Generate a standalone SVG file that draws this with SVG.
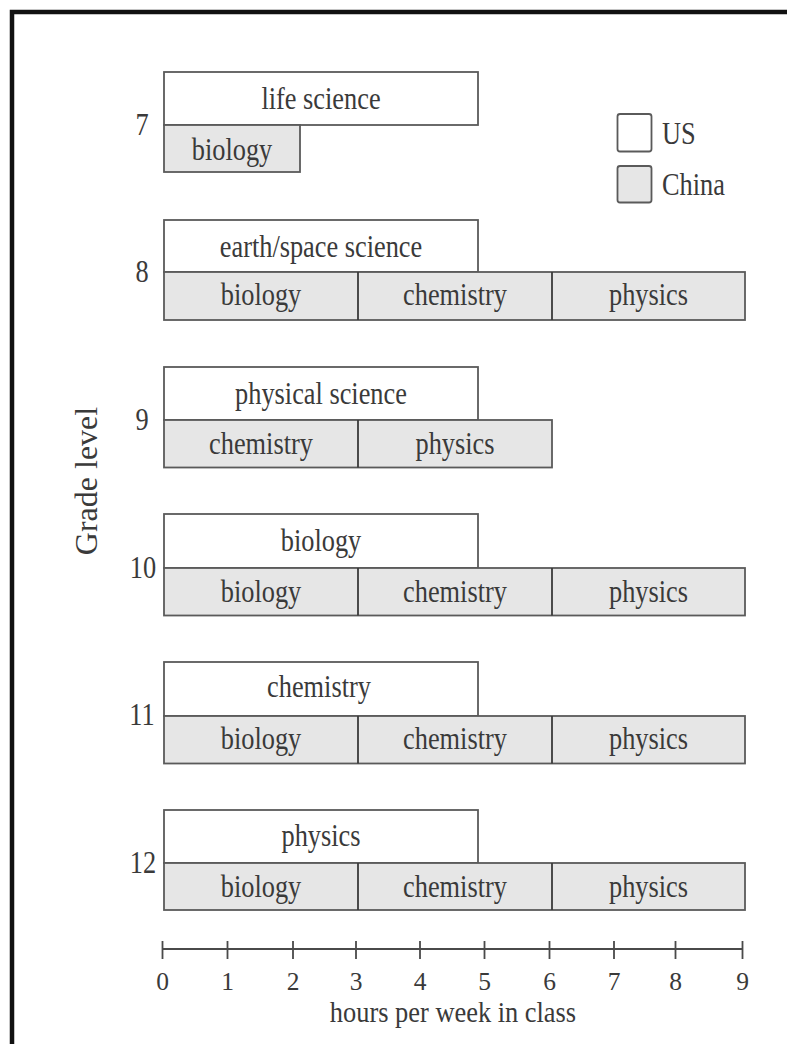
<svg xmlns="http://www.w3.org/2000/svg" width="787" height="1044" viewBox="0 0 787 1044">
<style>
.us{fill:#ffffff;stroke:#5a5a5a;stroke-width:1.8}
.cn{fill:#e6e6e6;stroke:#5a5a5a;stroke-width:1.8}
.div{stroke:#3a3a3a;stroke-width:1.8}
.lbl{font-family:"Liberation Serif","Times New Roman",serif;font-size:31px;fill:#3a3a3a;text-anchor:middle}
.lgd{font-family:"Liberation Serif","Times New Roman",serif;font-size:31px;fill:#3a3a3a;text-anchor:start}
.tick{font-family:"Liberation Serif","Times New Roman",serif;font-size:25.5px;fill:#3a3a3a;text-anchor:middle}
.ax{stroke:#4a4a4a;stroke-width:1.8;fill:none}
</style>
<rect x="0" y="0" width="787" height="1044" fill="#ffffff"/>
<path d="M12,1044 V12 H787" fill="none" stroke="#111111" stroke-width="4.5"/>

<g id="grade7">
<rect class="us" x="164" y="72" width="314" height="53"/>
<rect class="cn" x="164" y="125" width="136" height="47"/>
<text class="lbl" transform="translate(321,108.5) scale(0.85,1)">life science</text>
<text class="lbl" transform="translate(232,159.5) scale(0.85,1)">biology</text>
<text class="lbl" transform="translate(142,135) scale(0.85,1)">7</text>
</g>

<g id="grade8">
<rect class="us" x="164" y="220" width="314" height="52"/>
<rect class="cn" x="164" y="272" width="581" height="48"/>
<line class="div" x1="358" y1="272" x2="358" y2="320"/>
<line class="div" x1="552" y1="272" x2="552" y2="320"/>
<text class="lbl" transform="translate(321,256.5) scale(0.85,1)">earth/space science</text>
<text class="lbl" transform="translate(261,305) scale(0.85,1)">biology</text>
<text class="lbl" transform="translate(455,305) scale(0.85,1)">chemistry</text>
<text class="lbl" transform="translate(648.5,305) scale(0.85,1)">physics</text>
<text class="lbl" transform="translate(142,282) scale(0.85,1)">8</text>
</g>

<g id="grade9">
<rect class="us" x="164" y="367" width="314" height="53"/>
<rect class="cn" x="164" y="420" width="388" height="47.5"/>
<line class="div" x1="358" y1="420" x2="358" y2="467.5"/>
<text class="lbl" transform="translate(321,404) scale(0.85,1)">physical science</text>
<text class="lbl" transform="translate(261,454) scale(0.85,1)">chemistry</text>
<text class="lbl" transform="translate(455,454) scale(0.85,1)">physics</text>
<text class="lbl" transform="translate(142,430) scale(0.85,1)">9</text>
</g>

<g id="grade10">
<rect class="us" x="164" y="514" width="314" height="54"/>
<rect class="cn" x="164" y="568" width="581" height="47.5"/>
<line class="div" x1="358" y1="568" x2="358" y2="615.5"/>
<line class="div" x1="552" y1="568" x2="552" y2="615.5"/>
<text class="lbl" transform="translate(321,550.5) scale(0.85,1)">biology</text>
<text class="lbl" transform="translate(261,601.5) scale(0.85,1)">biology</text>
<text class="lbl" transform="translate(455,601.5) scale(0.85,1)">chemistry</text>
<text class="lbl" transform="translate(648.5,601.5) scale(0.85,1)">physics</text>
<text class="lbl" transform="translate(143,578) scale(0.85,1)">10</text>
</g>

<g id="grade11">
<rect class="us" x="164" y="662" width="314" height="54"/>
<rect class="cn" x="164" y="716" width="581" height="47.5"/>
<line class="div" x1="358" y1="716" x2="358" y2="763.5"/>
<line class="div" x1="552" y1="716" x2="552" y2="763.5"/>
<text class="lbl" transform="translate(319,697) scale(0.85,1)">chemistry</text>
<text class="lbl" transform="translate(261,748.5) scale(0.85,1)">biology</text>
<text class="lbl" transform="translate(455,748.5) scale(0.85,1)">chemistry</text>
<text class="lbl" transform="translate(648.5,748.5) scale(0.85,1)">physics</text>
<text class="lbl" transform="translate(142,725) scale(0.85,1)">11</text>
</g>

<g id="grade12">
<rect class="us" x="164" y="810" width="314" height="53"/>
<rect class="cn" x="164" y="863" width="581" height="47"/>
<line class="div" x1="358" y1="863" x2="358" y2="910"/>
<line class="div" x1="552" y1="863" x2="552" y2="910"/>
<text class="lbl" transform="translate(321,846) scale(0.85,1)">physics</text>
<text class="lbl" transform="translate(261,896.5) scale(0.85,1)">biology</text>
<text class="lbl" transform="translate(455,896.5) scale(0.85,1)">chemistry</text>
<text class="lbl" transform="translate(648.5,896.5) scale(0.85,1)">physics</text>
<text class="lbl" transform="translate(143,873) scale(0.85,1)">12</text>
</g>

<g id="legend">
<rect class="us" x="617.5" y="114" width="34" height="37.5" rx="2.5"/>
<rect class="cn" x="617.5" y="166" width="34" height="36.5" rx="2.5"/>
<text class="lgd" transform="translate(662,144) scale(0.85,1)">US</text>
<text class="lgd" transform="translate(662,195) scale(0.85,1)">China</text>
</g>

<g id="y-axis-title">
<text class="lbl" style="font-size:32px" transform="translate(96.5,481) rotate(-90)">Grade level</text>
</g>

<g id="x-axis">
<path class="ax" d="M162.5,949 H742.5 M162.5,941 V959 M227.5,941 V959 M293,941 V959 M356,941 V959 M420,941 V959 M484.5,941 V959 M549.5,941 V959 M614,941 V959 M675.5,941 V959 M742.5,941 V959"/>
<text class="tick" x="162.5" y="990">0</text>
<text class="tick" x="227.5" y="990">1</text>
<text class="tick" x="293" y="990">2</text>
<text class="tick" x="356" y="990">3</text>
<text class="tick" x="420" y="990">4</text>
<text class="tick" x="484.5" y="990">5</text>
<text class="tick" x="549.5" y="990">6</text>
<text class="tick" x="614" y="990">7</text>
<text class="tick" x="675.5" y="990">8</text>
<text class="tick" x="742.5" y="990">9</text>
<text class="lbl" style="font-size:30px" transform="translate(453,1021.5) scale(0.88,1)">hours per week in class</text>
</g>
</svg>
